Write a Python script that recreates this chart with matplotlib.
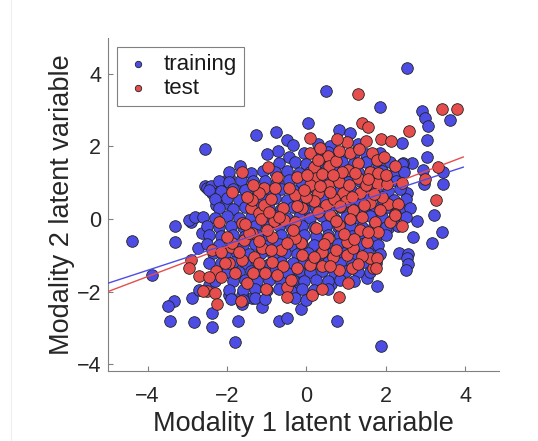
"""Training vs test latent variables scatter with per-set linear fits."""

import matplotlib

matplotlib.use("Agg")

import matplotlib.pyplot as plt
import numpy as np
from matplotlib.lines import Line2D

plt.rcParams["font.family"] = ["Liberation Sans", "DejaVu Sans"]

BLUE = "#4d4de6"
RED = "#e64d4d"

# training points: sparse outskirts first
train_outer = [
    (-4.39, -0.60), (-3.30, -0.18), (-3.31, -0.63), (-3.89, -1.54), (-3.33, -2.27),
    (-3.48, -2.40), (-3.43, -2.82), (-2.83, -2.84), (-2.37, -2.98), (-1.79, -3.39),
    (-1.72, -2.81), (-2.37, -2.60), (-2.88, -2.18), (-2.70, -1.96), (-2.45, -1.82),
    (-2.90, -0.08), (-2.95, -0.03), (-2.80, 0.05), (-2.63, -0.39), (-2.73, -0.80),
    (-2.55, 1.93), (-2.55, 0.91), (-2.50, 0.86), (-2.40, 0.91), (-2.37, 0.72),
    (-2.27, 0.39), (-2.02, 0.44), (-2.15, 0.99), (-1.94, 1.16), (-1.62, 0.88),
    (-1.67, 1.46), (-1.26, 2.32), (-0.76, 2.40), (-0.48, 2.18), (-0.71, 1.88),
    (-0.43, 1.71), (0.48, 3.53), (0.05, 2.65), (0.83, 2.46), (1.09, 2.37),
    (1.86, 3.09), (2.53, 4.17), (2.90, 2.98), (2.98, 2.78), (3.06, 2.56),
    (3.61, 2.72), (3.03, 2.18), (2.40, 2.10), (3.03, 1.71), (2.65, 1.54),
    (2.42, 1.54), (3.43, 1.30), (2.93, 1.35), (2.95, 0.97), (3.43, 0.97),
    (2.53, 0.72), (3.21, 0.12), (2.78, -0.05), (3.41, -0.36), (3.16, -0.66),
    (2.68, -0.50), (2.32, -0.94), (2.55, -0.97), (2.53, -1.07), (2.55, -1.24),
    (2.50, -1.41), (1.77, -1.85), (1.52, -1.63), (1.87, -3.50), (0.76, -2.81),
    (-0.68, -2.80), (-0.48, -2.73), (-0.13, -2.48), (0.63, -1.79), (-0.25, -1.74),
    (-1.62, -2.34), (-1.11, -2.43), (-1.36, -2.18), (-1.94, -2.10), (-1.62, -2.10),
    (2.05, -0.25), (1.72, -0.72),
]

# training points inside the dense cloud, row by row from the top
train_core = [
    (-0.35, 2.05), (0.30, 2.08), (0.60, 2.02), (1.30, 2.06),
    (-1.00, 1.80), (-0.05, 1.82), (0.25, 1.78), (0.55, 1.84), (0.85, 1.79),
    (1.20, 1.83), (1.50, 1.78), (1.85, 1.81),
    (-0.70, 1.55), (-0.30, 1.57), (0.00, 1.53), (0.30, 1.56), (0.60, 1.52),
    (0.90, 1.58), (1.20, 1.54), (1.50, 1.57), (1.80, 1.52), (2.10, 1.56), (2.40, 1.53),
    (-1.95, 1.30), (-1.40, 1.28), (-1.10, 1.32), (-0.80, 1.29), (-0.50, 1.33),
    (-0.20, 1.27), (0.10, 1.31), (0.40, 1.28), (0.70, 1.33), (1.00, 1.27),
    (1.30, 1.31), (1.60, 1.29), (1.90, 1.32), (2.20, 1.28), (2.45, 1.30),
    (-2.20, 1.05), (-1.95, 1.03), (-1.65, 1.07), (-1.35, 1.04), (-1.05, 1.06),
    (-0.75, 1.02), (-0.45, 1.07), (-0.15, 1.03), (0.15, 1.06), (0.45, 1.04),
    (0.75, 1.08), (1.05, 1.02), (1.35, 1.05), (1.65, 1.03), (1.95, 1.07), (2.25, 1.04),
    (-2.45, 0.80), (-2.15, 0.78), (-1.85, 0.82), (-1.55, 0.79), (-1.25, 0.81),
    (-0.95, 0.77), (-0.65, 0.82), (-0.35, 0.80), (-0.05, 0.78), (0.25, 0.83),
    (0.55, 0.79), (0.85, 0.81), (1.15, 0.77), (1.45, 0.82), (1.75, 0.80),
    (2.05, 0.78), (2.35, 0.83),
    (-2.30, 0.55), (-2.00, 0.57), (-1.70, 0.53), (-1.40, 0.56), (-1.10, 0.54),
    (-0.80, 0.58), (-0.50, 0.53), (-0.20, 0.56), (0.10, 0.52), (0.40, 0.57),
    (0.70, 0.54), (1.00, 0.56), (1.30, 0.52), (1.60, 0.57), (1.90, 0.55),
    (2.20, 0.53), (2.50, 0.56),
    (-2.20, 0.30), (-1.85, 0.28), (-1.55, 0.32), (-1.25, 0.29), (-0.95, 0.31),
    (-0.65, 0.27), (-0.35, 0.32), (-0.05, 0.29), (0.25, 0.31), (0.55, 0.28),
    (0.85, 0.33), (1.15, 0.29), (1.45, 0.31), (1.75, 0.27), (2.05, 0.32),
    (2.35, 0.29), (2.60, 0.31),
    (-2.60, 0.05), (-2.30, 0.03), (-2.00, 0.07), (-1.70, 0.04), (-1.40, 0.06),
    (-1.10, 0.02), (-0.80, 0.07), (-0.50, 0.04), (-0.20, 0.06), (0.10, 0.03),
    (0.40, 0.07), (0.70, 0.04), (1.00, 0.06), (1.30, 0.02), (1.60, 0.07),
    (1.90, 0.05), (2.20, 0.03), (2.50, 0.06),
    (-2.50, -0.20), (-2.20, -0.22), (-1.90, -0.18), (-1.60, -0.21), (-1.30, -0.19),
    (-1.00, -0.23), (-0.70, -0.18), (-0.40, -0.21), (-0.10, -0.19), (0.20, -0.22),
    (0.50, -0.18), (0.80, -0.21), (1.10, -0.20), (1.40, -0.23), (1.70, -0.18),
    (2.00, -0.21), (2.30, -0.19),
    (-2.45, -0.45), (-2.15, -0.47), (-1.85, -0.43), (-1.55, -0.46), (-1.25, -0.44),
    (-0.95, -0.48), (-0.65, -0.43), (-0.35, -0.46), (-0.05, -0.44), (0.25, -0.47),
    (0.55, -0.43), (0.85, -0.45), (1.15, -0.48), (1.45, -0.44), (1.75, -0.46),
    (2.00, -0.43),
    (-2.50, -0.70), (-2.20, -0.72), (-1.90, -0.68), (-1.60, -0.71), (-1.30, -0.69),
    (-1.00, -0.73), (-0.70, -0.68), (-0.40, -0.71), (-0.10, -0.69), (0.20, -0.72),
    (0.50, -0.68), (0.80, -0.70), (1.10, -0.73), (1.40, -0.69), (1.80, -0.71),
    (-2.35, -0.95), (-2.05, -0.97), (-1.75, -0.93), (-1.45, -0.96), (-1.15, -0.94),
    (-0.85, -0.98), (-0.55, -0.93), (-0.25, -0.96), (0.05, -0.94), (0.35, -0.97),
    (0.65, -0.93), (0.95, -0.95), (1.25, -0.98), (1.55, -0.94), (1.85, -0.96),
    (-2.45, -1.20), (-2.15, -1.22), (-1.85, -1.18), (-1.55, -1.21), (-1.25, -1.19),
    (-0.95, -1.23), (-0.65, -1.18), (-0.35, -1.21), (-0.05, -1.19), (0.25, -1.22),
    (0.55, -1.18), (0.85, -1.20), (1.15, -1.23), (1.45, -1.19), (1.75, -1.21),
    (-2.00, -1.45), (-1.70, -1.47), (-1.40, -1.43), (-1.10, -1.46), (-0.80, -1.44),
    (-0.50, -1.48), (-0.20, -1.43), (0.10, -1.46), (0.40, -1.44), (0.70, -1.47),
    (1.00, -1.43), (1.30, -1.45), (1.60, -1.47),
    (-2.30, -1.70), (-1.85, -1.72), (-1.55, -1.68), (-1.25, -1.71), (-0.95, -1.69),
    (-0.65, -1.73), (-0.35, -1.68), (-0.05, -1.71), (0.25, -1.69), (0.55, -1.72),
    (0.85, -1.68), (1.20, -1.70),
    (-1.95, -1.95), (-1.60, -1.97), (-1.30, -1.93), (-1.00, -1.96), (-0.70, -1.94),
    (-0.40, -1.98), (-0.10, -1.93), (0.20, -1.96), (0.55, -1.94),
    (-1.90, -2.20), (-1.60, -2.22), (-1.30, -2.18), (-1.05, -2.21), (-0.30, -2.19),
    (0.00, -2.22),
]

# test points
test_pts = [
    (1.29, 3.45), (3.41, 3.03), (3.79, 3.03), (2.58, 2.43), (1.41, 2.66),
    (1.55, 2.54), (0.08, 2.23), (1.01, 2.13), (0.78, 2.20), (1.49, 2.15),
    (1.89, 2.20), (2.12, 2.15), (0.10, 1.82), (1.09, 1.82), (0.53, 1.74),
    (1.64, 1.82), (0.20, 1.43), (0.56, 1.46), (1.04, 1.35), (1.59, 1.30),
    (-0.25, 1.16), (0.25, 1.13), (0.83, 1.02), (1.29, 1.13), (1.77, 0.99),
    (-0.30, 0.66), (0.28, 0.72), (0.91, 0.72), (1.34, 0.72), (0.50, 0.39),
    (1.16, 0.25), (-0.10, 0.30), (2.22, 1.46), (3.31, 1.43), (2.98, 1.10),
    (2.02, 0.97), (2.40, 0.99), (3.26, 0.52), (2.05, 0.41), (2.30, 0.41),
    (2.22, 0.14), (1.77, 1.63), (1.80, 1.27),
    (-1.62, 1.30), (-1.87, 0.74), (-0.98, 1.43), (-0.73, 1.16), (-1.06, 0.86),
    (-1.19, 0.72), (-1.39, 0.30), (-1.36, 0.52), (-1.19, 0.17), (-1.06, 0.39),
    (-2.20, -0.08), (-1.62, -0.11), (-2.37, -0.86), (-2.27, -1.43), (-2.15, -1.60),
    (-2.50, -1.99), (-2.30, -2.04), (-2.25, -2.34), (-1.64, -2.26), (-1.01, -1.93),
    (-0.50, -1.88), (-1.34, -1.49), (-1.62, -1.13), (-1.89, -0.77), (-2.15, -0.91),
    (-1.57, -0.58), (-1.31, -1.05), (-1.19, -1.21), (-0.88, -1.19), (-0.63, -0.86),
    (-0.58, -1.30), (-0.88, -0.50), (-1.14, 0.00), (-0.81, -0.06), (-0.56, -0.03),
    (-1.36, -0.39), (-0.50, -2.15), (-2.90, -1.13), (-2.95, -1.35), (-2.70, -1.57),
    (-2.60, -1.99), (-1.94, -1.21), (-1.87, -0.66), (-1.11, -0.80), (-1.44, -0.39),
    (0.83, -2.15), (0.15, -2.10), (0.38, -1.93), (1.04, -1.77), (1.14, -1.35),
    (-0.23, -1.35), (0.08, -1.27), (0.38, -1.30), (0.83, -1.41), (1.67, -1.35),
    (1.59, -1.08), (1.41, -1.02), (1.01, -0.99), (0.66, -1.05), (0.40, -0.91),
    (1.16, -0.80), (-0.13, -0.66), (0.53, -0.52), (1.01, -0.63), (1.52, -0.63),
    (0.83, -0.17), (1.34, -0.30), (1.72, -0.08), (-0.30, -0.08), (-0.30, -0.52),
    (-0.38, -1.68), (2.10, -0.08), (2.22, 0.11), (2.40, -0.19), (1.79, -0.36),
    (1.77, -1.08), (1.74, -1.35),
    (0.35, 1.95), (0.75, 1.60), (1.30, 1.55), (0.90, 1.30), (0.40, 1.25),
    (1.50, 0.95), (0.55, 0.95), (0.10, 0.95), (1.00, 0.50), (0.70, 0.55),
    (1.60, 0.45), (0.20, 0.50), (1.40, 0.05), (0.60, 0.10), (0.95, -0.40),
    (0.25, -0.25), (1.20, -0.55), (0.00, 0.60), (1.90, 0.60), (-1.50, 0.60),
    (-0.90, 0.55), (-0.60, 0.30), (-0.45, 0.85), (-0.70, 0.05), (-1.00, -0.30),
    (0.30, 1.62), (0.82, 1.88), (1.33, 1.93), (1.22, 1.28), (0.66, 1.22),
    (0.02, 1.22), (1.55, 1.10), (1.08, 0.95), (0.35, 0.90), (-0.05, 0.80),
    (0.60, 0.75), (1.15, 0.60), (1.45, 0.40), (0.85, 0.35), (0.30, 0.20),
    (-0.25, 0.35), (1.85, 0.25), (2.00, 1.20), (1.95, 1.70), (1.70, 0.70),
    (0.75, -0.05), (1.10, 0.00), (1.55, -0.35), (0.45, -0.70), (0.75, -0.85),
    (0.20, -1.05), (1.30, -1.25), (0.60, -1.30), (-0.10, -1.00), (-0.50, -0.65),
    (-0.75, -1.55), (-1.05, -1.50), (-1.50, -1.75), (-1.80, -1.50), (-2.05, -1.20),
    (-1.70, -0.90), (-1.20, -0.60), (-0.90, -0.85), (-1.55, -0.15), (-0.95, 0.20),
    (-0.35, -0.30), (-2.45, -1.60), (-2.00, -0.50), (-1.35, 0.95), (-0.80, 0.85),
]

# least-squares lines as drawn: end points (x, y)
fit_x = [-5.0, 3.95]
train_fit_y = [-1.77, 1.43]
test_fit_y = [-2.00, 1.71]


def main() -> None:
    train = np.array(train_outer + train_core)
    test = np.array(test_pts)

    fig = plt.figure(figsize=(5.38, 4.41), dpi=100)
    ax = fig.add_axes([0.2007, 0.1587, 0.7268, 0.7551])

    marker_kw = dict(s=70, edgecolors="#222222", linewidths=0.6)
    ax.scatter(train[:, 0], train[:, 1], color=BLUE, label="training", zorder=2, **marker_kw)
    ax.scatter(test[:, 0], test[:, 1], color=RED, label="test", zorder=3, **marker_kw)

    ax.plot(fit_x, train_fit_y, color=BLUE, linewidth=1.0, zorder=4)
    ax.plot(fit_x, test_fit_y, color=RED, linewidth=1.0, zorder=4)

    ax.set_xlim(-5.0, 4.85)
    ax.set_ylim(-4.19, 4.99)
    ax.set_xticks([-4, -2, 0, 2, 4])
    ax.set_yticks([-4, -2, 0, 2, 4])
    ax.tick_params(direction="in", length=3.5, width=0.8, color="#808080",
                   labelsize=15.5, labelcolor="#262626")
    ax.tick_params(axis="x", pad=11)
    ax.tick_params(axis="y", pad=5)
    for side in ("top", "right"):
        ax.spines[side].set_visible(False)
    for side in ("left", "bottom"):
        ax.spines[side].set_color("#808080")
        ax.spines[side].set_linewidth(0.8)

    ax.set_xlabel("Modality 1 latent variable", fontsize=19.5, color="#262626", labelpad=3)
    ax.set_ylabel("Modality 2 latent variable", fontsize=19.5, color="#262626", labelpad=1)

    legend = ax.legend(loc="upper left", bbox_to_anchor=(0.023, 0.973), fontsize=16,
                       markerscale=0.55, fancybox=False, framealpha=1.0,
                       edgecolor="#808080", handletextpad=0.5, borderpad=0.3,
                       labelspacing=0.15, handlelength=1.3, borderaxespad=0.0)
    legend.get_frame().set_linewidth(0.8)
    for text in legend.get_texts():
        text.set_color("#1a1a1a")

    fig.add_artist(Line2D([11 / 538, 11 / 538], [0, 1], color="#eeeeee", linewidth=0.8))

    fig.savefig("out.png", dpi=100, facecolor="white")
    plt.close(fig)


if __name__ == "__main__":
    main()
